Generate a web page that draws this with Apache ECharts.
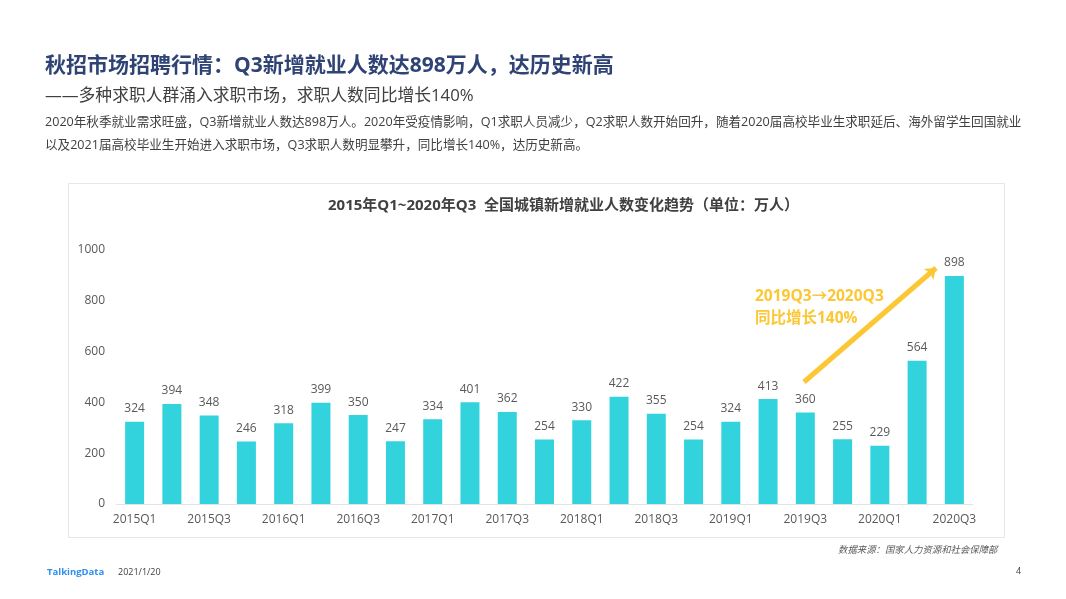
<!DOCTYPE html>
<html>
<head>
<meta charset="utf-8">
<style>
  html, body { margin: 0; padding: 0; background: #fff; }
  #main { width: 1066px; height: 599px; }
</style>
<script src="https://cdn.jsdelivr.net/npm/echarts@6/dist/echarts.min.js"></script>
</head>
<body>
<div id="main"></div>
<script>
// 季度与新增就业人数（万人）
var quarters = [
  '2015Q1', '2015Q2', '2015Q3', '2015Q4',
  '2016Q1', '2016Q2', '2016Q3', '2016Q4',
  '2017Q1', '2017Q2', '2017Q3', '2017Q4',
  '2018Q1', '2018Q2', '2018Q3', '2018Q4',
  '2019Q1', '2019Q2', '2019Q3', '2019Q4',
  '2020Q1', '2020Q2', '2020Q3'
];
var newJobs = [
  324, 394, 348, 246,
  318, 399, 350, 247,
  334, 401, 362, 254,
  330, 422, 355, 254,
  324, 413, 360, 255,
  229, 564, 898
];

var pageTitle = '秋招市场招聘行情：Q3新增就业人数达898万人，达历史新高';
var pageSub = '——多种求职人群涌入求职市场，求职人数同比增长140%';
var bodyLine1 = '2020年秋季就业需求旺盛，Q3新增就业人数达898万人。2020年受疫情影响，Q1求职人员减少，Q2求职人数开始回升，随着2020届高校毕业生求职延后、海外留学生回国就业';
var bodyLine2 = '以及2021届高校毕业生开始进入求职市场，Q3求职人数明显攀升，同比增长140%，达历史新高。';
var chartTitle = '2015年Q1~2020年Q3  全国城镇新增就业人数变化趋势（单位：万人）';
var noteLines = '2019Q3→2020Q3\n同比增长140%';
var sourceText = '数据来源：国家人力资源和社会保障部';

var fontName = '"Open Sans", "Noto Sans CJK SC", sans-serif';

function pageText(x, y, text, size, color, extra) {
  var style = { x: x, y: y, text: text, fontSize: size, fill: color, fontFamily: fontName, textVerticalAlign: 'middle' };
  for (var k in extra) style[k] = extra[k];
  return { type: 'text', style: style, z: 10 };
}

var myChart = echarts.init(document.getElementById('main'));

var option = {
  backgroundColor: '#fff',
  animation: false,
  textStyle: { fontFamily: fontName },
  grid: { left: 116, right: 93, top: 250, bottom: 95 },
  xAxis: {
    type: 'category',
    data: quarters,
    axisTick: { show: false },
    axisLine: { lineStyle: { color: '#e3e3e3', width: 1 } },
    axisLabel: { interval: 1, color: '#595959', fontSize: 12, margin: 10 }
  },
  yAxis: {
    type: 'value',
    min: 0,
    max: 1000,
    interval: 200,
    axisLine: { show: false },
    axisTick: { show: false },
    splitLine: { show: false },
    axisLabel: {
      color: '#595959',
      fontSize: 12,
      margin: 11,
      formatter: function (v) { return String(v); }
    }
  },
  series: [
    {
      type: 'bar',
      data: newJobs,
      barWidth: 19,
      itemStyle: { color: '#32d3dd' },
      label: { show: true, position: 'top', color: '#595959', fontSize: 12, distance: 7 },
      markLine: {
        silent: true,
        symbol: ['none', 'arrow'],
        symbolSize: [11, 10],
        label: { show: false },
        lineStyle: { color: '#fcc734', width: 5, type: 'solid' },
        data: [[{ x: 804, y: 382 }, { x: 936, y: 268 }]]
      }
    }
  ],
  graphic: [
    // 图表外框
    { type: 'rect', shape: { x: 68.5, y: 183.5, width: 936, height: 354 }, style: { fill: 'none', stroke: '#e6e6e6', lineWidth: 1 }, z: 0 },
    pageText(45, 66, pageTitle, 21, '#2f4475', { fontWeight: 'bold' }),
    pageText(45, 96, pageSub, 16.8, '#404040'),
    pageText(45, 122, bodyLine1, 12.58, '#404040'),
    pageText(45, 145, bodyLine2, 12.58, '#404040'),
    pageText(328, 206, chartTitle, 15, '#404040', { fontWeight: 'bold' }),
    pageText(755, 308, noteLines, 15.5, '#fcc734', { fontWeight: 'bold', lineHeight: 22 }),
    pageText(838, 550, sourceText, 9.4, '#595959', { fontStyle: 'italic' }),
    pageText(47, 572, 'TalkingData', 9.5, '#2f8ff0', { fontWeight: 'bold' }),
    pageText(118, 572, '2021/1/20', 9, '#404040'),
    pageText(1016, 571, '4', 9, '#404040')
  ]
};
myChart.setOption(option);
</script>
</body>
</html>
